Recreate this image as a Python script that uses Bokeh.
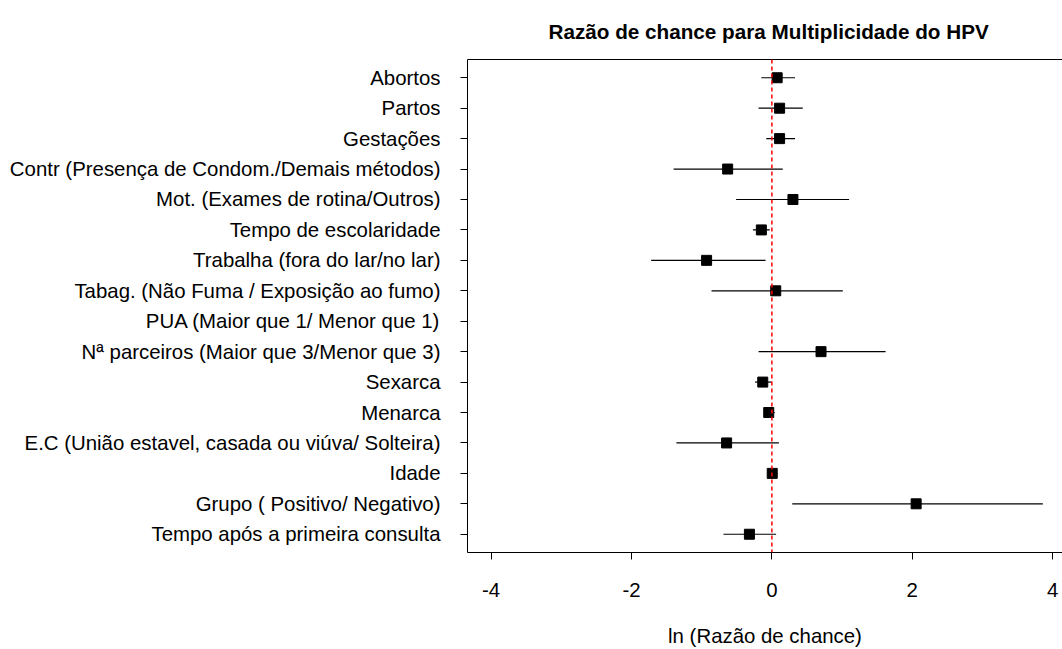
from bokeh.plotting import figure
from bokeh.models import (Range1d, FixedTicker, Span, LinearAxis, ColumnDataSource)
from bokeh.embed import file_html
from bokeh.resources import INLINE

# ---------------- data (top to bottom) ----------------
variables = [
    "Abortos",
    "Partos",
    "Gestações",
    "Contr (Presença de Condom./Demais métodos)",
    "Mot. (Exames de rotina/Outros)",
    "Tempo de escolaridade",
    "Trabalha (fora do lar/no lar)",
    "Tabag. (Não Fuma / Exposição ao fumo)",
    "PUA (Maior que 1/ Menor que 1)",
    "Nª parceiros (Maior que 3/Menor que 3)",
    "Sexarca",
    "Menarca",
    "E.C (União estavel, casada ou viúva/ Solteira)",
    "Idade",
    "Grupo ( Positivo/ Negativo)",
    "Tempo após a primeira consulta",
]
log_or = [0.075, 0.11, 0.11, -0.63, 0.30, -0.15, -0.93, 0.055, None,
          0.70, -0.13, -0.045, -0.645, 0.005, 2.055, -0.32]
ci_low = [-0.15, -0.19, -0.08, -1.40, -0.51, -0.27, -1.72, -0.86, None,
          -0.19, -0.24, -0.07, -1.36, -0.06, 0.29, -0.69]
ci_high = [0.33, 0.44, 0.33, 0.155, 1.10, -0.03, -0.09, 1.01, None,
           1.62, 0.0, 0.04, 0.10, 0.08, 3.86, 0.06]
x_ticks = [-4, -2, 0, 2, 4]
x_tick_labels = ["-4", "-2", "0", "2", "4"]

title_text = "Razão de chance para Multiplicidade do HPV"
x_label_text = "ln (Razão de chance)"

# ---------------- build ----------------
n = len(variables)
ypos = [n - i for i in range(n)]
rows = [i for i in range(n) if log_or[i] is not None]
src = ColumnDataSource(dict(
    y=[ypos[i] for i in rows],
    est=[log_or[i] for i in rows],
    lo=[ci_low[i] for i in rows],
    hi=[ci_high[i] for i in rows],
))

FONT = "Liberation Sans"
W, H = 1062, 649
p = figure(width=W, height=H, output_backend="svg", toolbar_location=None,
           x_range=Range1d(-4.336, 4.140), y_range=Range1d(0.4, n + 0.6),
           min_border_left=467, min_border_right=0, min_border_top=59,
           min_border_bottom=97, x_axis_location=None, y_axis_location=None)
p.outline_line_color = None
p.xgrid.visible = False
p.ygrid.visible = False
p.background_fill_color = "white"
p.border_fill_color = "white"

# title
p.title.text = title_text
p.title.align = "left"
p.title.offset = 81
p.title.text_font = FONT
p.title.text_font_size = "20.7px"
p.title.text_font_style = "bold"
p.title.text_color = "black"
p.title.standoff = 33

# axes
xa = LinearAxis(ticker=FixedTicker(ticks=x_ticks))
xa.major_label_overrides = {t: l for t, l in zip(x_ticks, x_tick_labels)}
ya = LinearAxis(ticker=FixedTicker(ticks=ypos))
ya.major_label_overrides = {y: v for y, v in zip(ypos, variables)}
top = LinearAxis(ticker=FixedTicker(ticks=[]))

for ax in (xa, ya, top):
    ax.axis_line_color = "black"
    ax.axis_line_width = 1
    ax.major_tick_line_color = "black"
    ax.major_tick_in = 0
    ax.major_tick_out = 7
    ax.minor_tick_line_color = None
    ax.major_label_text_font = FONT
    ax.major_label_text_font_size = "20.4px"
    ax.major_label_text_color = "black"
top.major_tick_out = 0
top.major_label_text_font_size = "0px"
top.major_label_standoff = 0
xa.major_label_standoff = 23
ya.major_label_standoff = 20

xa.axis_label = x_label_text
xa.axis_label_text_font = FONT
xa.axis_label_text_font_size = "20.4px"
xa.axis_label_text_font_style = "normal"
xa.axis_label_text_color = "black"
xa.axis_label_standoff = 25

p.add_layout(xa, "below")
p.add_layout(ya, "left")
p.add_layout(top, "above")

# reference line
p.add_layout(Span(location=0, dimension="height", line_color="red",
                  line_dash="4 3", line_width=1.5))

# intervals and estimates
p.segment(x0="lo", x1="hi", y0="y", y1="y", source=src, line_color="black", line_width=1.2)
p.scatter(x="est", y="y", source=src, marker="square", size=10,
          fill_color="black", line_color="black")

open("out.html", "w").write(file_html(p, INLINE))
